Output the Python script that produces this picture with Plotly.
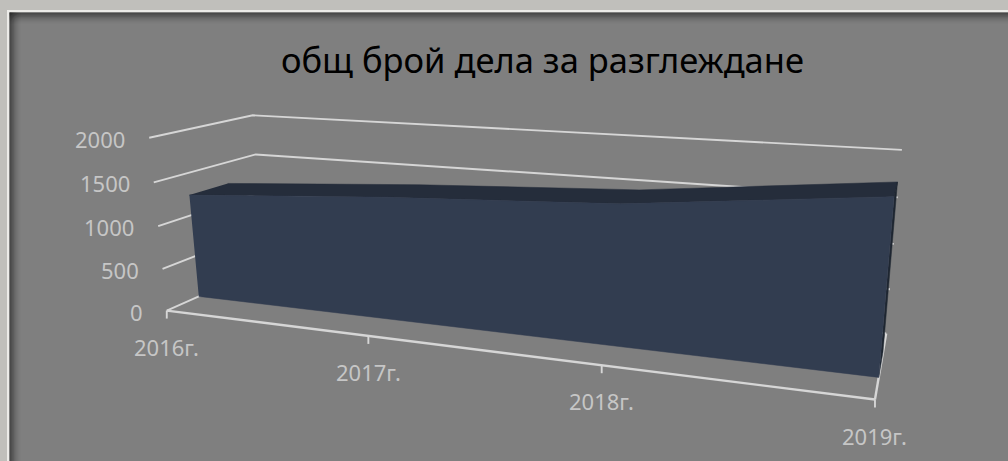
import numpy as np
import plotly.graph_objects as go

# ---- data ----
TITLE = "общ брой дела за разглеждане"
categories = ["2016г.", "2017г.", "2018г.", "2019г."]
values = [1240, 1400, 1520, 1780]
value_ticks = [0, 500, 1000, 1500, 2000]
VALUE_MAX = 2000

# ---- perspective view of the chart box: (category, depth, value) in 0..1 -> screen ----
FRONT, BACK = 0.30, 0.68
box = [(0, 0, 0), (1, 0, 0), (1, 1, 0), (0, 1, 0), (0, 0, 1), (0, 1, 1), (1, 1, 1)]
scr = [(166, 310), (875, 400), (886, 333), (265, 268), (150, 138), (252, 115), (902, 150)]
rows = []
for (a, b, c), (sx, sy) in zip(box, scr):
    rows.append([a, b, c, 1, 0, 0, 0, 0, -sx * a, -sx * b, -sx * c, -sx])
    rows.append([0, 0, 0, 0, a, b, c, 1, -sy * a, -sy * b, -sy * c, -sy])
P = np.linalg.svd(np.array(rows, float))[2][-1].reshape(3, 4)


def proj(i, depth, val):
    h = P @ np.array([i / (len(categories) - 1), depth, val / VALUE_MAX, 1.0])
    return h[0] / h[2], h[1] / h[2]


def path(points):
    xy = [proj(*p) for p in points]
    return [q[0] for q in xy], [q[1] for q in xy]


fig = go.Figure()
last = len(categories) - 1
GRID = "#d6d6d6"


def line(points, width=1.9, color=GRID):
    x, y = path(points)
    fig.add_trace(go.Scatter(x=x, y=y, mode="lines", line=dict(color=color, width=width),
                             hoverinfo="skip", showlegend=False))


def face(points, color):
    x, y = path(points)
    fig.add_trace(go.Scatter(x=x, y=y, mode="lines", fill="toself", fillcolor=color,
                             line=dict(color=color, width=0.5), hoverinfo="skip", showlegend=False))


# walls' gridlines
for t in value_ticks:
    line([(0, 0, t), (0, 1, t), (last, 1, t)])

# category axis and right floor edge, tick marks
line([(0, 0, 0), (last, 0, 0)], width=2.4)
line([(last, 0, 0), (last, 1, 0)], width=2.4)
for i in range(len(categories)):
    sx, sy = proj(i, 0, 0)
    fig.add_shape(type="line", x0=sx, x1=sx, y0=sy, y1=sy + 8, line=dict(color=GRID, width=1.9))

# area faces
idx = list(range(len(categories)))
face([(i, FRONT, v) for i, v in zip(idx, values)] + [(i, BACK, v) for i, v in zip(idx[::-1], values[::-1])], "#252d3b")
face([(last, FRONT, 0), (last, BACK, 0), (last, BACK, values[-1]), (last, FRONT, values[-1])], "#1e2631")
face([(i, FRONT, v) for i, v in zip(idx, values)] + [(last, FRONT, 0), (0, FRONT, 0)], "#323d50")

# tick labels
annotations = []
LABEL = "#c6c6c6"
FONT = "Noto Sans"
for t in value_ticks:
    sx, sy = proj(0, 0, t)
    annotations.append(dict(x=sx - 22, y=sy + 1, text=str(t), showarrow=False, xanchor="right", yanchor="middle",
                            font=dict(family=FONT, size=22, color=LABEL)))
for i, c in enumerate(categories):
    sx, sy = proj(i, 0, 0)
    annotations.append(dict(x=sx, y=sy + 36, text=c, showarrow=False, xanchor="center", yanchor="middle",
                            font=dict(family=FONT, size=22, color=LABEL)))
annotations.append(dict(x=542, y=59, text=TITLE, showarrow=False, xanchor="center", yanchor="middle",
                        font=dict(family=FONT, size=34.5, color="#000000")))

# frame: outer band, bright border and inner shadow
shapes = [dict(type="rect", x0=0, x1=1008, y0=0, y1=10, fillcolor="#c0bfbb", line_width=0, layer="below"),
          dict(type="rect", x0=0, x1=7, y0=0, y1=461, fillcolor="#c0bfbb", line_width=0, layer="below"),
          dict(type="rect", x0=7, x1=1008, y0=10, y1=12.5, fillcolor="#ecebe8", line_width=0, layer="below"),
          dict(type="rect", x0=7, x1=9.5, y0=10, y1=461, fillcolor="#ecebe8", line_width=0, layer="below")]
for k in range(12):
    a = 0.42 * (1 - k / 12) ** 1.5
    shapes.append(dict(type="rect", x0=9.5, x1=9.5 + k + 1, y0=12.5, y1=461, fillcolor=f"rgba(30,30,30,{a / 3:.3f})",
                       line_width=0, layer="below"))
    shapes.append(dict(type="rect", x0=9.5, x1=1008, y0=12.5, y1=12.5 + k + 1, fillcolor=f"rgba(30,30,30,{a / 3:.3f})",
                       line_width=0, layer="below"))
for s in shapes:
    fig.add_shape(**s)

fig.update_layout(
    width=1008, height=461, margin=dict(l=0, r=0, t=0, b=0), showlegend=False,
    paper_bgcolor="#7f7f7f", plot_bgcolor="#7f7f7f", annotations=annotations,
    xaxis=dict(range=[0, 1008], visible=False, fixedrange=True),
    yaxis=dict(range=[461, 0], visible=False, fixedrange=True),
)
fig.write_html("out.html", post_script="document.body.style.margin='0';document.documentElement.style.overflow='hidden';",
               config={"displayModeBar": False})
